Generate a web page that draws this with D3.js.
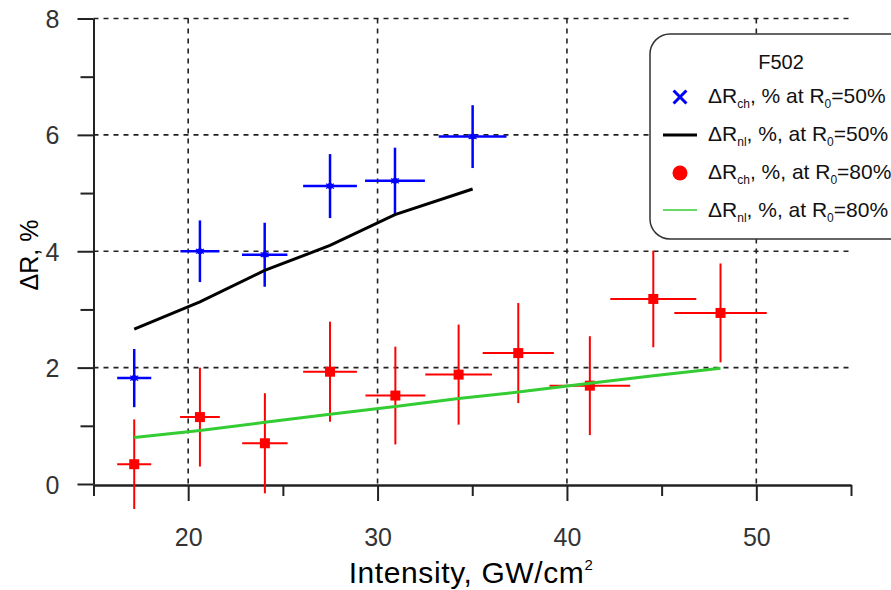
<!DOCTYPE html>
<html>
<head>
<meta charset="utf-8">
<script src="https://cdn.jsdelivr.net/npm/d3@7"></script>
<style>
  body { margin: 0; background: #fff; }
  svg { display: block; font-family: "Liberation Sans", Arial, sans-serif; }
</style>
</head>
<body>
<div id="chart"></div>
<script>
// series at R0 = 50 %
let intensity50 = [17.15, 20.62, 24.04, 27.49, 30.92, 35.02];
let intensityErr50 = [0.90, 1.03, 1.20, 1.42, 1.58, 1.79];
let dRch50 = [1.82, 4.00, 3.94, 5.12, 5.21, 5.97];
let dRchErr50 = [0.50, 0.53, 0.55, 0.55, 0.57, 0.54];
let dRnl50 = [2.66, 3.13, 3.67, 4.10, 4.63, 5.07];

// series at R0 = 80 %
let intensity80 = [17.15, 20.62, 24.05, 27.49, 30.94, 34.28, 37.43, 41.21, 44.56, 48.11];
let intensityErr80 = [0.90, 1.05, 1.20, 1.42, 1.58, 1.76, 1.88, 2.13, 2.27, 2.44];
let dRch80 = [0.34, 1.15, 0.70, 1.93, 1.52, 1.88, 2.25, 1.69, 3.18, 2.94];
let dRchErr80 = [0.77, 0.85, 0.86, 0.86, 0.84, 0.86, 0.86, 0.85, 0.83, 0.85];
let dRnl80 = [0.80, 0.92, 1.06, 1.20, 1.33, 1.47, 1.58, 1.73, 1.86, 1.99];

// ticks
let xMajor = [20, 30, 40, 50];
let xMinor = [15, 25, 35, 45, 55];
let yMajor = [0, 2, 4, 6, 8];
let yMinor = [1, 3, 5, 7];

let width = 891, height = 590;

let svg = d3.select("#chart").append("svg")
    .attr("width", width)
    .attr("height", height);

let x = d3.scaleLinear().domain([15, 55]).range([93.5, 851]);
let y = d3.scaleLinear().domain([0, 8]).range([484, 18.5]);

// grid
let grid = svg.append("g")
    .attr("stroke", "#222")
    .attr("stroke-width", 1.6)
    .attr("stroke-dasharray", "5,5");
grid.selectAll(".gx").data(xMajor).enter().append("line")
    .attr("x1", d => x(d)).attr("x2", d => x(d))
    .attr("y1", y(8)).attr("y2", y(0));
grid.selectAll(".gy").data(yMajor.filter(d => d > 0)).enter().append("line")
    .attr("x1", x(15)).attr("x2", x(55))
    .attr("y1", d => y(d)).attr("y2", d => y(d));

// axes
let xAxisMinor = svg.append("g")
    .attr("transform", `translate(0, ${y(0) + 1})`)
    .call(d3.axisBottom(x).tickValues(xMinor).tickSize(11).tickSizeOuter(0).tickFormat(""));
let xAxis = svg.append("g")
    .attr("transform", `translate(0, ${y(0) + 1})`)
    .call(d3.axisBottom(x).tickValues(xMajor).tickSize(16).tickSizeOuter(0).tickPadding(27));
let yAxisMinor = svg.append("g")
    .attr("transform", `translate(${x(15)}, 0)`)
    .call(d3.axisLeft(y).tickValues(yMinor).tickSize(13).tickSizeOuter(0).tickFormat(""));
let yAxis = svg.append("g")
    .attr("transform", `translate(${x(15)}, 0)`)
    .call(d3.axisLeft(y).tickValues(yMajor).tickSize(16).tickSizeOuter(0).tickPadding(18));

[xAxisMinor, xAxis, yAxisMinor, yAxis].forEach(a => {
    a.selectAll("path, line").attr("stroke", "#222").attr("stroke-width", 2);
    a.selectAll("text").attr("fill", "#333").style("font-size", "25px")
        .style("font-family", "'Liberation Sans', Arial, sans-serif");
});
yAxis.selectAll("text").attr("dy", "0.36em");

// axis titles
let xTitle = svg.append("text")
    .attr("x", 471).attr("y", 583)
    .attr("text-anchor", "middle")
    .style("font-size", "30px")
    .style("letter-spacing", "0.6px")
    .attr("fill", "#000");
xTitle.append("tspan").text("Intensity, GW/cm");
xTitle.append("tspan").text("2").style("font-size", "15px").attr("dy", -13);

svg.append("text")
    .attr("transform", "translate(38, 255) rotate(-90)")
    .attr("text-anchor", "middle")
    .style("font-size", "25px")
    .attr("fill", "#000")
    .text("ΔR, %");

// error bars
function errorBars(xs, xe, ys, ye, color, w) {
    let g = svg.append("g").attr("stroke", color).attr("stroke-width", w);
    let data = xs.map((d, i) => ({x: d, xe: xe[i], y: ys[i], ye: ye[i]}));
    g.selectAll(".h").data(data).enter().append("line")
        .attr("x1", d => x(d.x - d.xe)).attr("x2", d => x(d.x + d.xe))
        .attr("y1", d => y(d.y)).attr("y2", d => y(d.y));
    g.selectAll(".v").data(data).enter().append("line")
        .attr("x1", d => x(d.x)).attr("x2", d => x(d.x))
        .attr("y1", d => y(d.y - d.ye)).attr("y2", d => y(d.y + d.ye));
    return data;
}

let blue = errorBars(intensity50, intensityErr50, dRch50, dRchErr50, "#0000ff", 2.5);
let red = errorBars(intensity80, intensityErr80, dRch80, dRchErr80, "#ff0000", 2);

// markers
svg.append("g").selectAll("path").data(blue).enter().append("path")
    .attr("d", d3.symbol(d3.symbolAsterisk, 60))
    .attr("transform", d => `translate(${x(d.x)}, ${y(d.y)})`)
    .attr("stroke", "#0000ff").attr("stroke-width", 1.2).attr("fill", "none");
svg.append("g").selectAll("circle").data(blue).enter().append("circle")
    .attr("cx", d => x(d.x)).attr("cy", d => y(d.y)).attr("r", 3)
    .attr("fill", "#0000ff");
svg.append("g").selectAll("path").data(red).enter().append("path")
    .attr("d", d3.symbol(d3.symbolSquare, 100))
    .attr("transform", d => `translate(${x(d.x)}, ${y(d.y)})`)
    .attr("fill", "#ff0000");

// fitted lines
let line = d3.line().x(d => x(d[0])).y(d => y(d[1]));
svg.append("path")
    .datum(intensity50.map((d, i) => [d, dRnl50[i]]))
    .attr("d", line).attr("fill", "none")
    .attr("stroke", "#000").attr("stroke-width", 3);
svg.append("path")
    .datum(intensity80.map((d, i) => [d, dRnl80[i]]))
    .attr("d", line).attr("fill", "none")
    .attr("stroke", "#33cc33").attr("stroke-width", 3);

// legend
let legend = svg.append("g");
legend.append("rect")
    .attr("x", 650).attr("y", 34).attr("width", 300).attr("height", 205)
    .attr("rx", 20).attr("ry", 20)
    .attr("fill", "#fff").attr("stroke", "#333").attr("stroke-width", 1.5);
legend.append("text")
    .attr("x", 781).attr("y", 69).attr("text-anchor", "middle")
    .style("font-size", "20px").attr("fill", "#111")
    .text("F502");

let legendRows = [
    {sub: "ch", mid: ", % at R", end: "=50%", y: 103},
    {sub: "nl", mid: ", %, at R", end: "=50%", y: 141},
    {sub: "ch", mid: ", %, at R", end: "=80%", y: 179},
    {sub: "nl", mid: ", %, at R", end: "=80%", y: 217}
];
legendRows.forEach(r => {
    let t = legend.append("text")
        .attr("x", 708).attr("y", r.y)
        .style("font-size", "21px").attr("fill", "#111");
    t.append("tspan").text("ΔR");
    t.append("tspan").text(r.sub).style("font-size", "12px").attr("dy", 5);
    t.append("tspan").text(r.mid).attr("dy", -5);
    t.append("tspan").text("0").style("font-size", "12px").attr("dy", 5);
    t.append("tspan").text(r.end).attr("dy", -5);
});

legend.append("path")
    .attr("d", d3.symbol(d3.symbolX || d3.symbolTimes, 110))
    .attr("transform", "translate(680, 97)")
    .attr("stroke", "#0000ff").attr("stroke-width", 3).attr("fill", "none");
legend.append("line")
    .attr("x1", 663).attr("x2", 697).attr("y1", 135).attr("y2", 135)
    .attr("stroke", "#000").attr("stroke-width", 3);
legend.append("circle")
    .attr("cx", 680).attr("cy", 173).attr("r", 7.5)
    .attr("fill", "#ff0000");
legend.append("line")
    .attr("x1", 663).attr("x2", 697).attr("y1", 210).attr("y2", 210)
    .attr("stroke", "#33cc33").attr("stroke-width", 1.5);
</script>
</body>
</html>
